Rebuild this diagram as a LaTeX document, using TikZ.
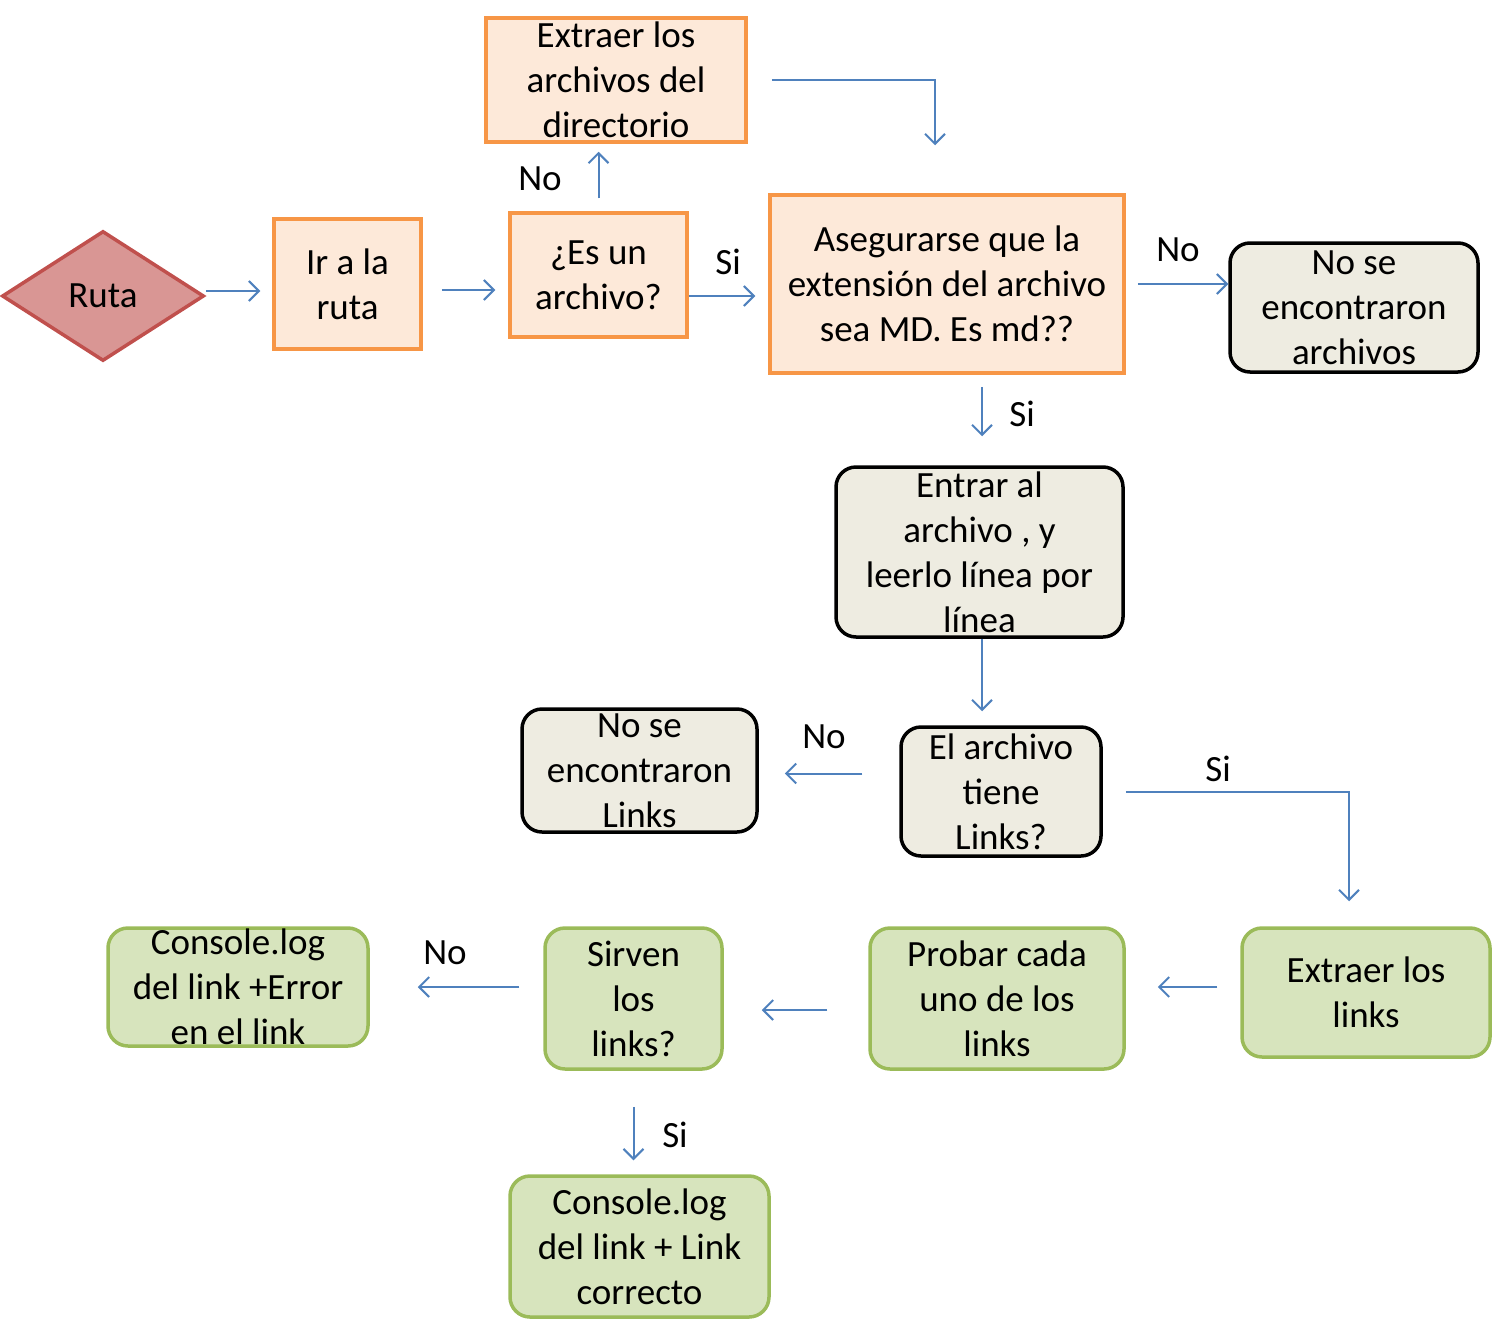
\documentclass[tikz,border=0pt]{standalone}
\usepackage{fontspec}
\setmainfont{Carlito}
\usetikzlibrary{arrows.meta,shapes.geometric}
\definecolor{borange}{HTML}{F79646}
\definecolor{forange}{HTML}{FDE9D9}
\definecolor{fgray}{HTML}{EEECE1}
\definecolor{bgreen}{HTML}{9BBB59}
\definecolor{fgreen}{HTML}{D7E4BD}
\definecolor{bred}{HTML}{C0504D}
\definecolor{fred}{HTML}{D99694}
\definecolor{cblue}{HTML}{4F81BD}
\tikzset{
  sz/.style 2 args={minimum width=#1*0.5pt, minimum height=#2*0.5pt},
  orangebox/.style={draw=borange, fill=forange, line width=1.75pt, align=center, inner sep=0pt},
  graybox/.style={draw=black, fill=fgray, line width=1.75pt, rounded corners=10pt, align=center, inner sep=0pt},
  greenbox/.style={draw=bgreen, fill=fgreen, line width=1.75pt, rounded corners=10pt, align=center, inner sep=0pt},
  conn/.style={draw=cblue, line width=1pt, -{Straight Barb[length=5pt,width=10pt]}},
  lbl/.style={inner sep=0pt}
}
\begin{document}
\begin{tikzpicture}[x=0.5pt,y=-0.5pt,font=\fontsize{18.5}{22.5}\selectfont]
\useasboundingbox (0,0) rectangle (1492,1338);
% nodes
\node[diamond, draw=bred, fill=fred, line width=1.75pt, minimum width=101pt, minimum height=65pt, inner sep=0pt] (ruta) at (103,296) {Ruta};
\node[orangebox, sz={147}{130}] (ir) at (347.5,284) {Ir a la\\ruta};
\node[orangebox, sz={177}{124}] (es) at (598.5,275) {¿Es un\\archivo?};
\node[orangebox, sz={260}{124}] (exdir) at (616,80) {Extraer los\\archivos del\\directorio};
\node[orangebox, sz={354}{178}] (aseg) at (947,284) {Asegurarse que la\\extensión del archivo\\sea MD. Es md??};
\node[graybox, sz={248}{129}] (nosearch) at (1354,307.5) {No se\\encontraron\\archivos};
\node[graybox, sz={287}{170}] (entrar) at (979.5,552) {Entrar al\\archivo , y\\leerlo línea por\\línea};
\node[graybox, sz={200}{129}] (tiene) at (1001,791.5) {El archivo\\tiene\\Links?};
\node[graybox, sz={235}{123}] (nolinks) at (639.5,770.5) {No se\\encontraron\\Links};
\node[greenbox, sz={248}{129}] (exlinks) at (1366,992.5) {Extraer los\\links};
\node[greenbox, sz={254}{141}] (probar) at (997,998.5) {Probar cada\\uno de los\\links};
\node[greenbox, sz={177}{141}] (sirven) at (633.5,998.5) {Sirven\\los\\links?};
\node[greenbox, sz={260}{118}] (conerr) at (238,987) {Console.log\\del link +Error\\en el link};
\node[greenbox, sz={259}{141}] (conok) at (639.5,1246.5) {Console.log\\del link + Link\\correcto};
% connectors
\draw[conn, shorten >=6pt] ([yshift=2.5pt]ruta.east) -- ([yshift=2.5pt]ruta.east -| ir.west);
\draw[conn, shorten <=9.5pt, shorten >=6.5pt] ([yshift=-3pt]ir.east) -- ([yshift=-3pt]ir.east -| es.west);
\draw[conn, shorten >=6.5pt] ([yshift=-10.5pt]es.east) -- ([yshift=-10.5pt]es.east -| aseg.west);
\draw[conn, shorten <=6.5pt, shorten >=4pt] (es.north) -- (es.north |- exdir.south);
\draw[conn, shorten >=24pt] ([xshift=12pt]exdir.east) -| ([xshift=-6pt]aseg.north);
\draw[conn, shorten <=6pt] (aseg.east) -- (aseg.east -| nosearch.west);
\draw[conn, shorten <=6pt, shorten >=14.5pt] ([xshift=1.25pt]entrar.north |- aseg.south) -- ([xshift=1.25pt]entrar.north);
\draw[conn, shorten >=7pt] ([xshift=1.25pt]entrar.south) -- ([xshift=1.25pt]entrar.south |- tiene.north);
\draw[conn, shorten <=18.5pt, shorten >=13pt] ([yshift=9pt]tiene.west) -- ([yshift=9pt]tiene.west -| nolinks.east);
\draw[conn, shorten <=11.5pt, shorten >=12.5pt] (tiene.east) -| ([xshift=-8.5pt]exlinks.north);
\draw[conn, shorten <=11.5pt, shorten >=16pt] ([yshift=2.75pt]exlinks.west) -- ([yshift=2.75pt]exlinks.west -| probar.east);
\draw[conn, shorten <=20.5pt, shorten >=19pt] ([yshift=-5.75pt]probar.west) -- ([yshift=-5.75pt]probar.west -| sirven.east);
\draw[conn, shorten <=12pt, shorten >=24pt] (conerr.east -| sirven.west) -- (conerr.east);
\draw[conn, shorten <=18pt, shorten >=7pt] (sirven.south) -- (sirven.south |- conok.north);
% labels
\node[lbl] (l1) at (540,179) {No};
\node[lbl] (l2) at (728,262) {Si};
\node[lbl] (l3) at (1178,250) {No};
\node[lbl] (l4) at (1022,414) {Si};
\node[lbl] (l5) at (824,737) {No};
\node[lbl] (l6) at (1218,769) {Si};
\node[lbl] (l7) at (445,953) {No};
\node[lbl] (l8) at (675,1135) {Si};
\end{tikzpicture}
\end{document}
